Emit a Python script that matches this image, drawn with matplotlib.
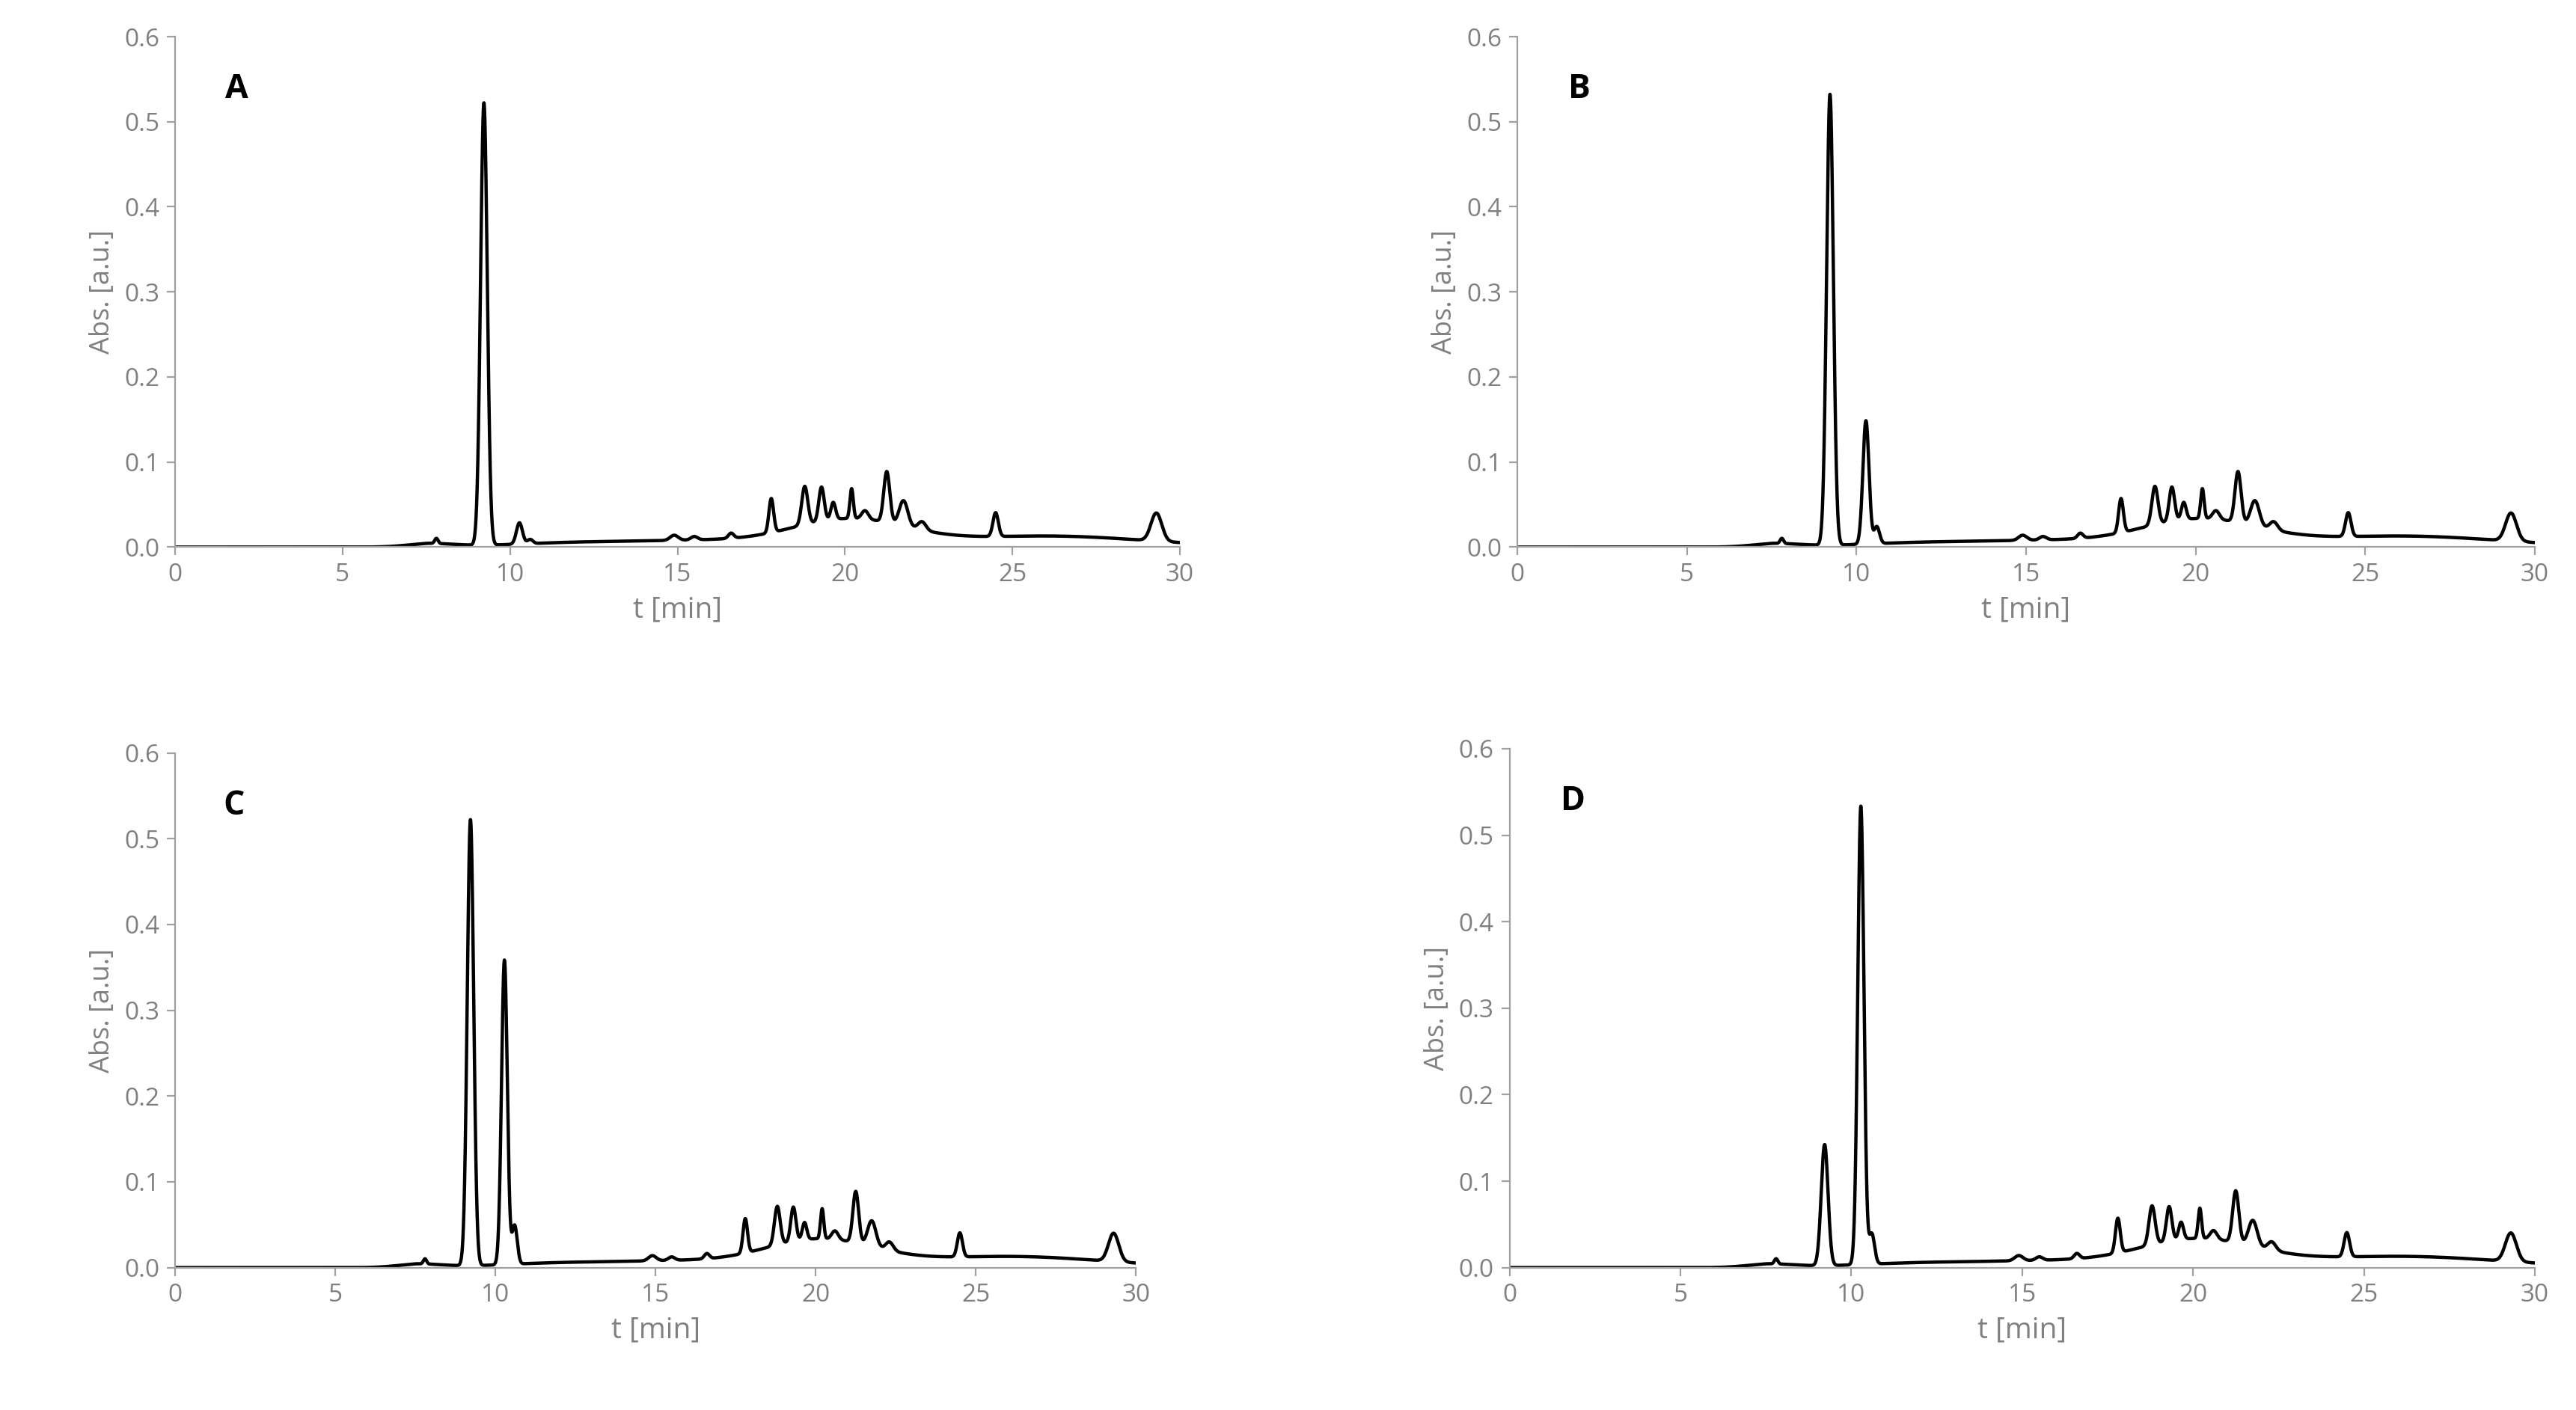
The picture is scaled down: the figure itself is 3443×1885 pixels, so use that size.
import numpy as np
import matplotlib
matplotlib.use('Agg')
import matplotlib.pyplot as plt

# ── Data: peak tables (retention time [min], height [a.u.], sigma [min]) ────────
common_rt     = [7.8, 14.9, 15.5, 16.6, 17.8, 18.8, 19.3, 19.65, 20.2, 20.6, 21.25, 21.75, 22.3, 24.5, 29.3]
common_height = [0.006, 0.006, 0.004, 0.006, 0.04, 0.045, 0.04, 0.02, 0.035, 0.01, 0.06, 0.03, 0.01, 0.028, 0.033]
common_sigma  = [0.05, 0.12, 0.1, 0.08, 0.07, 0.09, 0.08, 0.07, 0.05, 0.1, 0.09, 0.13, 0.12, 0.08, 0.16]

# baseline (time, level, width)
base_rt     = [7.5, 12.0, 16.0, 19.5, 21.0, 26.0]
base_height = [0.004, 0.005, 0.007, 0.02, 0.015, 0.013]
base_sigma  = [0.8, 2.0, 2.0, 1.5, 1.5, 3.0]

# main peaks per panel: peak at ~9.2 min, peak at ~10.3 min, shoulder at ~10.6 min
panels      = ['A', 'B', 'C', 'D']
peak1_h     = [0.52, 0.53, 0.52, 0.14]
peak2_h     = [0.025, 0.145, 0.355, 0.53]
shoulder_h  = [0.005, 0.02, 0.045, 0.035]

t = np.linspace(0, 30.2, 6000)

def gauss(t, mu, h, s):
    return h * np.exp(-0.5 * ((t - mu) / s) ** 2)

def trace(i):
    y = np.zeros_like(t)
    for mu, h, s in zip(base_rt, base_height, base_sigma):
        y += gauss(t, mu, h, s)
    y *= np.clip((t - 5.5) / 2.0, 0, 1)
    for mu, h, s in zip(common_rt, common_height, common_sigma):
        y += gauss(t, mu, h, s)
    y += gauss(t, 9.22, peak1_h[i], 0.1)
    y += gauss(t, 10.28, peak2_h[i], 0.09)
    y += gauss(t, 10.6, shoulder_h[i], 0.08)
    return y

# ── Layout ───────────────────────────────────────────────────────────────────
positions = [
    [0.068, 0.612, 0.390, 0.362],
    [0.589, 0.612, 0.395, 0.362],
    [0.068, 0.101, 0.373, 0.365],
    [0.586, 0.101, 0.398, 0.368],
]
GREY = '#808080'
plt.rcParams['font.family'] = ['Open Sans', 'DejaVu Sans']

fig = plt.figure(figsize=(17.215, 9.425), dpi=200)
for i, pos in enumerate(positions):
    ax = fig.add_axes(pos)
    ax.plot(t, trace(i), color='black', linewidth=1.6)
    ax.set_xlim(0, 30)
    ax.set_ylim(0, 0.6)
    ax.set_xticks(range(0, 31, 5))
    ax.set_yticks(np.arange(0, 0.61, 0.1))
    ax.set_yticklabels([f'{v:.1f}' for v in np.arange(0, 0.61, 0.1)])
    for s in ['top', 'right']:
        ax.spines[s].set_visible(False)
    for s in ['left', 'bottom']:
        ax.spines[s].set_color('#a0a0a0')
    ax.tick_params(colors='#a0a0a0', labelcolor=GREY, labelsize=12, length=4)
    ax.set_xlabel('t [min]', color=GREY, fontsize=14)
    ax.set_ylabel('Abs. [a.u.]', color=GREY, fontsize=13)
    ax.text(0.05, 0.93, panels[i], transform=ax.transAxes, fontsize=16,
            fontweight='bold', va='top')

fig.savefig('out.png', dpi=200)
